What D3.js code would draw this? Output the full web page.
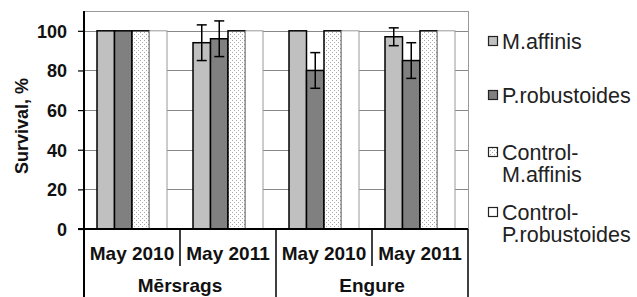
<!DOCTYPE html>
<html><head><meta charset="utf-8">
<script src="https://cdn.jsdelivr.net/npm/d3@7"></script>
<style>body{margin:0;background:#fff}svg{display:block}text{font-family:"Liberation Sans",Arial,sans-serif}</style>
</head><body><svg id="c" width="637" height="297"></svg>
<script>
const categories = ["May 2010","May 2011","May 2010","May 2011"];
const groups = ["Mērsrags","Engure"];
const seriesNames = ["M.affinis","P.robustoides","Control-M.affinis","Control-P.robustoides"];
const mAffinis = [100,94,100,97];
const pRobustoides = [100,96,80,85];
const controlMAffinis = [100,100,100,100];
const controlPRobustoides = [100,100,100,100];
const errMAffinis = [0,9,0,4.5];
const errPRobustoides = [0,9,9,9];
const yTicks = [0,20,40,60,80,100];

const series = [
  {name:seriesNames[0], values:mAffinis, err:errMAffinis, fill:"#c0c0c0", stroke:"#000"},
  {name:seriesNames[1], values:pRobustoides, err:errPRobustoides, fill:"#808080", stroke:"#000"},
  {name:seriesNames[2], values:controlMAffinis, err:null, fill:"url(#dots)", stroke:"#000"},
  {name:seriesNames[3], values:controlPRobustoides, err:null, fill:"#fff", stroke:"#999"}
];

const svg = d3.select("#c");
const defs = svg.append("defs");
const pat = defs.append("pattern").attr("id","dots").attr("patternUnits","userSpaceOnUse")
  .attr("width",4).attr("height",4);
pat.append("rect").attr("width",4).attr("height",4).attr("fill","#fff");
pat.append("rect").attr("x",0).attr("y",0).attr("width",1).attr("height",1).attr("fill","#aaa");
pat.append("rect").attr("x",2).attr("y",2).attr("width",1).attr("height",1).attr("fill","#aaa");

const L=84, R=468, T=11, B=229;
const y = d3.scaleLinear().domain([0,110]).range([B,T]);
const x0 = d3.scaleBand().domain(d3.range(categories.length)).range([L,R]);
const x1 = d3.scaleBand().domain(d3.range(series.length)).range([0,x0.bandwidth()]).paddingInner(0).paddingOuter(0.743);

// plot border (gray)
svg.append("line").attr("x1",L).attr("x2",R).attr("y1",T+0.5).attr("y2",T+0.5).attr("stroke","#999");
svg.append("line").attr("x1",R+0.5).attr("x2",R+0.5).attr("y1",T).attr("y2",B).attr("stroke","#999");
// gridlines
svg.append("g").selectAll("line").data(yTicks.filter(d=>d>0)).join("line")
  .attr("x1",L).attr("x2",R).attr("y1",d=>Math.round(y(d))+0.5).attr("y2",d=>Math.round(y(d))+0.5)
  .attr("stroke","#888");

// bars
const gBars = svg.append("g");
series.forEach((s,si)=>{
  gBars.append("g").selectAll("rect").data(s.values).join("rect")
    .attr("x",(d,i)=>x0(i)+x1(si))
    .attr("y",d=>y(d))
    .attr("width",x1.bandwidth())
    .attr("height",d=>y(0)-y(d))
    .attr("fill",s.fill).attr("stroke",s.stroke).attr("stroke-width",si<3?1.5:1);
});
// error bars
series.forEach((s,si)=>{
  if(!s.err) return;
  s.values.forEach((v,i)=>{
    const e=s.err[i]; if(!e) return;
    const cx = x0(i)+x1(si)+x1.bandwidth()/2;
    const g = svg.append("g").attr("stroke","#000").attr("stroke-width",1.5);
    g.append("line").attr("x1",cx).attr("x2",cx).attr("y1",y(v+e)).attr("y2",y(v-e));
    g.append("line").attr("x1",cx-5).attr("x2",cx+5).attr("y1",y(v+e)).attr("y2",y(v+e));
    g.append("line").attr("x1",cx-5).attr("x2",cx+5).attr("y1",y(v-e)).attr("y2",y(v-e));
  });
});

// y axis
const yAxis = d3.axisLeft(y).tickValues(yTicks).tickSize(6).tickPadding(11);
const ga = svg.append("g").attr("transform",`translate(${L},0)`).call(yAxis);
ga.select(".domain").remove();
ga.selectAll(".tick line").attr("stroke","#000").attr("stroke-width",1.2);
ga.selectAll(".tick text").attr("font-size",18).attr("font-weight","bold").attr("fill","#111")
  .attr("dy","0.36em")
  .style("font-family","'Liberation Sans',Arial,sans-serif");
svg.append("line").attr("x1",L).attr("x2",L).attr("y1",T).attr("y2",297).attr("stroke","#000").attr("stroke-width",2);
svg.append("line").attr("x1",L-6).attr("x2",R).attr("y1",B).attr("y2",B).attr("stroke","#000").attr("stroke-width",2);

// y title
svg.append("text").attr("transform",`translate(28,126) rotate(-90)`).attr("text-anchor","middle")
  .attr("font-size",18).attr("font-weight","bold").attr("fill","#111").text("Survival, %");

// category axis
svg.append("g").selectAll("text").data(categories).join("text")
  .attr("x",(d,i)=>x0(i)+x0.bandwidth()/2).attr("y",260).attr("text-anchor","middle")
  .attr("font-size",19).attr("font-weight","bold").attr("fill","#111").text(d=>d);
const groupScale = d3.scaleBand().domain(groups).range([L,R]);
svg.append("g").selectAll("text").data(groups).join("text")
  .attr("x",d=>groupScale(d)+groupScale.bandwidth()/2).attr("y",292).attr("text-anchor","middle")
  .attr("font-size",19).attr("font-weight","bold").attr("fill","#111").text(d=>d);
// separators
d3.range(1,categories.length).forEach(i=>{
  const xx = x0(i);
  const isGroup = i%2===0;
  svg.append("line").attr("x1",xx).attr("x2",xx).attr("y1",B).attr("y2",isGroup?297:266).attr("stroke","#000").attr("stroke-width",1.5);
});
svg.append("line").attr("x1",R).attr("x2",R).attr("y1",B).attr("y2",297).attr("stroke","#000").attr("stroke-width",1.5);

// legend
const legendItems = [
  {lines:["M.affinis"], base:49, sq:41, fill:"#c0c0c0"},
  {lines:["P.robustoides"], base:103, sq:95, fill:"#808080"},
  {lines:["Control-","M.affinis"], base:160, sq:152, fill:"url(#dots)"},
  {lines:["Control-","P.robustoides"], base:220, sq:212, fill:"#fff"}
];
const lg = svg.append("g");
legendItems.forEach((it,k)=>{
  lg.append("rect").attr("x",488.5).attr("y",it.sq-4.5).attr("width",9).attr("height",9)
    .attr("fill",it.fill).attr("stroke","#222").attr("stroke-width",1.2);
  it.lines.forEach((ln,j)=>{
    lg.append("text").attr("x",502).attr("y",it.base+j*22).attr("font-size",21.5).attr("fill","#222").text(ln);
  });
});
</script></body></html>
